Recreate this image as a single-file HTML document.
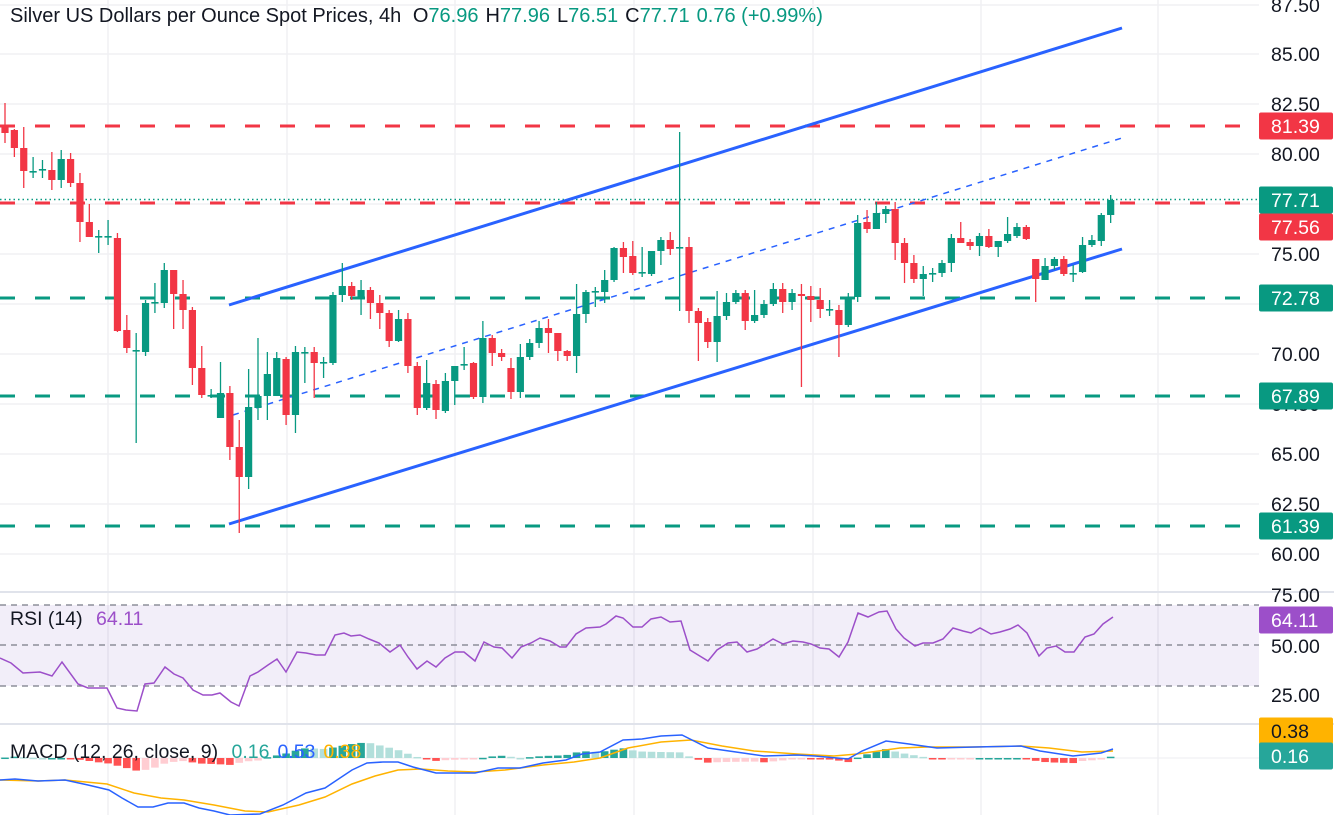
<!DOCTYPE html>
<html><head><meta charset="utf-8"><style>
html,body{margin:0;padding:0;background:#fff;}
svg{display:block;font-family:"Liberation Sans",sans-serif;}
</style></head><body>
<svg id="c" width="1334" height="815" xmlns="http://www.w3.org/2000/svg"></svg>
<script>
const s=document.getElementById('c');let h='';
const UP='#089981',DN='#f23645';
[5,54,104,154,204,254,304,354,404,454,504,554].forEach(y=>h+=`<line x1="0" y1="${y}" x2="1259" y2="${y}" stroke="#f0f0f3" stroke-width="1.5"/>`);
[108,287,455,634,813,981,1158].forEach(x=>h+=`<line x1="${x}" y1="0" x2="${x}" y2="815" stroke="#f0f0f3" stroke-width="1.5"/>`);
h+=`<line x1="0" y1="592" x2="1334" y2="592" stroke="#e0e3eb" stroke-width="2"/>`;
h+=`<line x1="0" y1="724" x2="1334" y2="724" stroke="#e0e3eb" stroke-width="2"/>`;
[[126,DN],[203,DN],[298,UP],[396,UP],[526,UP]].forEach(([y,c])=>h+=`<line x1="0" y1="${y}" x2="1259" y2="${y}" stroke="${c}" stroke-width="3" stroke-dasharray="15 20"/>`);
h+=`<line x1="0" y1="199.5" x2="1259" y2="199.5" stroke="${UP}" stroke-width="1.5" stroke-dasharray="1.5 3"/>`;
h+=`<line x1="229" y1="305" x2="1122" y2="28" stroke="#2962ff" stroke-width="3"/>`;
h+=`<line x1="229" y1="524" x2="1122" y2="249" stroke="#2962ff" stroke-width="3"/>`;
h+=`<line x1="233" y1="415" x2="1122" y2="138" stroke="#2962ff" stroke-width="1.5" stroke-dasharray="6 6"/>`;
const C=[[125,133,103,143],[130,148,129,157],[148,171,127,188],[171,171,157,178],[169,169,160,178],[170,180,152,190],[180,159,150,188],[159,183,153,187],[183,222,173,242],[222,237,204,237],[236,236,230,253],[236,236,220,245],[238,331,233,332],[330,348,315,353],[350,350,333,443],[352,303,300,356],[302,302,283,313],[303,270,263,308],[270,294,270,329],[294,310,280,329],[310,368,307,385],[368,395,346,398],[395,395,389,398],[418,393,362,418],[393,447,386,460],[447,477,420,533],[477,407,369,489],[408,396,338,420],[396,374,352,420],[396,358,352,396],[359,415,357,425],[415,352,346,433],[352,352,347,383],[352,363,347,398],[362,362,357,378],[363,295,292,365],[295,286,263,302],[286,296,282,300],[297,290,280,315],[290,303,287,319],[303,313,295,329],[313,341,310,347],[341,319,310,342],[319,366,313,373],[366,408,362,415],[408,383,360,410],[384,410,380,419],[411,381,373,413],
[381,366,366,405],[364,364,347,370],[363,397,362,399],[397,338,321,403],[338,353,335,366],[353,357,349,361],[368,392,358,399],[392,357,344,398],[357,343,339,360],[343,328,321,348],[328,333,319,353],[333,351,333,361],[351,356,350,361],[356,314,284,373],[314,292,290,323],[291,291,287,307],[292,280,270,303],[280,248,247,282],[248,257,242,273],[256,273,241,275],[272,272,247,277],[274,251,251,276],[251,240,237,265],[240,249,232,255],[247,247,132,311],[247,311,237,323],[311,323,308,361],[322,342,318,348],[342,316,291,362],[316,302,293,320],[302,293,290,304],[293,321,290,330],[321,315,290,323],[315,304,300,318],[304,289,283,306],[289,302,283,313],[302,293,289,310],[294,296,284,387],[296,300,286,322],[300,309,288,318],[309,309,300,316],[310,325,305,357],[325,297,293,327],[297,223,215,302],
[222,229,210,233],[229,213,202,229],[214,209,206,223],[209,243,202,260],[243,263,238,283],[263,279,255,283],[279,274,266,296],[273,273,268,282],[273,263,260,277],[263,238,234,272],[238,243,222,243],[242,246,239,250],[246,236,233,256],[236,247,229,248],[247,241,241,257],[241,234,217,243],[236,227,223,238],[227,239,225,240],[259,279,259,302],[280,266,258,280],[266,259,257,270],[259,274,256,276],[273,273,265,282],[272,245,237,273],[245,240,235,247],[241,215,213,246],[215,200,195,223]];
C.forEach((k,i)=>{const x=5+i*9.37;const[o,c,hi,lo]=k;const col=c>o?DN:UP;
h+=`<line x1="${x}" y1="${hi}" x2="${x}" y2="${lo}" stroke="${col}" stroke-width="1.3"/>`;
const t=Math.min(o,c),b=Math.max(o,c);h+=`<rect x="${x-3.6}" y="${t}" width="7.2" height="${Math.max(b-t,1.6)}" fill="${col}"/>`;});
h+=`<rect x="0" y="605" width="1259" height="81" fill="#7e57c2" fill-opacity="0.1"/>`;
[605,645,686].forEach(y=>h+=`<line x1="0" y1="${y}" x2="1259" y2="${y}" stroke="#787b86" stroke-width="1.2" stroke-dasharray="6 5"/>`);
const R="0,658 11,663 23,673 40,672 52,676 62,662 78,684 88,688 107,688 117,708 126,710 137,711 145,684 154,683 165,667 174,674 183,678 193,690 203,695 212,695 220,693 231,702 239,706 250,676 258,672 268,665 277,659 286,672 297,652 306,653 316,655 325,655 335,635 344,633 351,636 360,635 369,639 379,643 390,652 400,645 408,657 417,669 427,661 436,667 445,658 455,652 464,652 475,661 484,642 494,647 502,648 512,658 521,647 531,643 540,638 550,641 560,647 566,647 576,634 586,628 600,627 606,624 616,616 623,618 633,627 642,627 651,619 661,617 670,622 681,621 690,650 708,661 717,650 728,643 737,642 747,652 757,649 773,639 783,644 793,641 803,642 811,644 820,648 829,649 839,657 848,642 858,613 868,617 879,612 887,611 896,629 904,638 915,646 923,643 933,643 943,639 953,628 963,631 971,633 980,628 991,634 1000,632 1010,629 1018,625 1027,633 1039,656 1047,648 1056,646 1065,652 1074,652 1085,637 1094,634 1103,624 1113,617";
h+=`<polyline points="${R}" fill="none" stroke="#9c4fc9" stroke-width="1.5"/>`;
const B=[[0,780],[15,779],[38,781],[65,780],[88,785],[109,790],[122,798],[138,807],[153,807],[168,803],[184,803],[199,808],[214,811],[230,815],[260,814],[283,805],[306,793],[325,788],[337,780],[352,770],[367,763],[383,762],[398,762],[413,767],[436,773],[459,773],[475,773],[498,768],[520,768],[543,763],[566,760],[582,754],[600,752],[623,740],[642,739],[661,736],[682,735],[708,748],[736,752],[764,756],[797,755],[815,756],[848,759],[862,751],[886,741],[909,744],[937,748],[975,747],[1021,746],[1040,751],[1073,756],[1101,753],[1113,749]];
const O=[[0,780],[38,781],[65,780],[107,784],[134,793],[161,798],[184,800],[214,805],[245,811],[268,812],[299,805],[325,797],[352,784],[375,776],[398,770],[421,769],[448,771],[475,772],[505,770],[543,765],[574,762],[600,758],[628,748],[661,742],[691,740],[722,746],[754,751],[797,754],[834,756],[857,754],[900,748],[928,747],[975,747],[1021,746],[1049,748],[1082,752],[1113,751]];
const it=(a,x)=>{for(let i=1;i<a.length;i++)if(x<=a[i][0]){const[p,q]=a[i-1],[r,t]=a[i];return q+(t-q)*(x-p)/(r-p||1);}return a[a.length-1][1];};
h+=`<line x1="0" y1="758" x2="1259" y2="758" stroke="#eeeef2" stroke-width="1"/>`;
let prev=0;for(let i=0;i<C.length;i++){const x=5+i*9.37;const v=it(O,x)-it(B,x);let col;if(v>=0)col=v>=prev?'#26a69a':'#b2dfdb';else col=v<=prev?'#ff5252':'#ffcdd2';prev=v;
const y=v>=0?758-v:758;h+=`<rect x="${x-3.8}" y="${y}" width="7.6" height="${Math.max(Math.abs(v),1.5)}" fill="${col}"/>`;}
h+=`<polyline points="${O.map(p=>p.join(',')).join(' ')}" fill="none" stroke="#ffb300" stroke-width="1.5"/>`;
h+=`<polyline points="${B.map(p=>p.join(',')).join(' ')}" fill="none" stroke="#2962ff" stroke-width="1.5"/>`;
[[5,'87.50'],[54,'85.00'],[104,'82.50'],[154,'80.00'],[254,'75.00'],[354,'70.00'],[404,'67.50'],[454,'65.00'],[504,'62.50'],[554,'60.00'],[595,'75.00'],[646,'50.00'],[695,'25.00']].forEach(([y,t])=>h+=`<text x="1271" y="${y+7}" font-size="19.5" fill="#131722">${t}</text>`);
const tag=(y,t,bg,fg)=>{h+=`<rect x="1259" y="${y-13.5}" width="74" height="27" rx="2" fill="${bg}"/><text x="1271" y="${y+7}" font-size="19.5" fill="${fg||'#fff'}">${t}</text>`;};
tag(126,'81.39',DN);tag(396,'67.89',UP);tag(298,'72.78',UP);tag(526,'61.39',UP);tag(200,'77.71',UP);tag(227,'77.56',DN);
tag(620,'64.11','#9c4fc9');tag(731,'0.38','#ffb300','#131722');tag(756,'0.16','#26a69a');
h+=`<text x="10" y="22" font-size="20" fill="#131722">Silver US Dollars per Ounce Spot Prices, 4h <tspan dx="6">O</tspan><tspan fill="${UP}">76.96</tspan><tspan dx="7">H</tspan><tspan fill="${UP}">77.96</tspan><tspan dx="7">L</tspan><tspan fill="${UP}">76.51</tspan><tspan dx="7">C</tspan><tspan fill="${UP}">77.71</tspan><tspan dx="7" fill="${UP}">0.76 (+0.99%)</tspan></text>`;
h+=`<text x="10" y="625" font-size="19.5" fill="#131722">RSI (14) <tspan dx="8" fill="#9c4fc9">64.11</tspan></text>`;
h+=`<text x="10" y="758" font-size="19.5" fill="#131722">MACD (12, 26, close, 9) <tspan dx="8" fill="#26a69a">0.16</tspan><tspan dx="8" fill="#2962ff">0.53</tspan><tspan dx="8" fill="#ffb300">0.38</tspan></text>`;
s.innerHTML=h;
</script>
</body></html>
